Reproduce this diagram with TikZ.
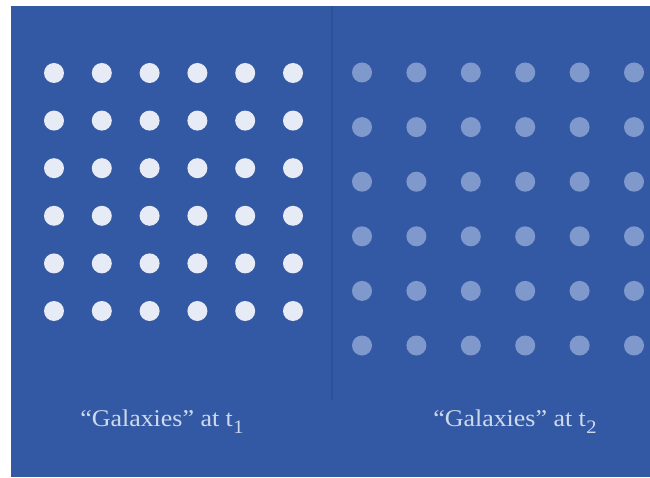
\documentclass[tikz,border=0pt]{standalone}
\usepackage{fontspec}
\setmainfont{Liberation Serif}
\definecolor{bgblue}{RGB}{52,89,164}
\definecolor{divblue}{RGB}{45,80,152}
\definecolor{dotA}{RGB}{230,235,246}
\definecolor{dotB}{RGB}{128,153,205}
\definecolor{txt}{RGB}{205,218,238}
\tikzset{
  galA/.style={circle, fill=dotA, minimum size=20pt, inner sep=0pt},
  galB/.style={circle, fill=dotB, minimum size=20pt, inner sep=0pt},
  caption/.style={text=txt, inner sep=0pt, anchor=base, font=\fontsize{24}{28}\selectfont}
}
\begin{document}
\begin{tikzpicture}[x=1pt,y=-1pt]
\fill[white] (0,0) rectangle (650,478);
\useasboundingbox (0,0) rectangle (650,478);
\fill[bgblue] (11,6) rectangle (650,477);
\coordinate (dtop) at (331.5,6);
\coordinate (dbot) at (331.5,400);
\draw[divblue, line width=2pt] (dtop) -- (dbot);
\foreach \i in {0,...,5}{
  \foreach \j in {0,...,5}{
    \node[galA] (a\i\j) at ({54+47.8*\i},{73+47.6*\j}) {};
    \node[galB] (b\i\j) at ({362+54.4*\i},{72.5+54.6*\j}) {};
  }
}
\node[caption] (capA) at (162,426.7) {\scalebox{1.08}[1]{“Galaxies” at t\kern0.5pt\raisebox{-6.5pt}{\fontsize{19}{19}\selectfont 1}}};
\node[caption] (capB) at (515,426.7) {\scalebox{1.08}[1]{“Galaxies” at t\kern0.5pt\raisebox{-6.5pt}{\fontsize{19}{19}\selectfont 2}}};
\end{tikzpicture}
\end{document}
